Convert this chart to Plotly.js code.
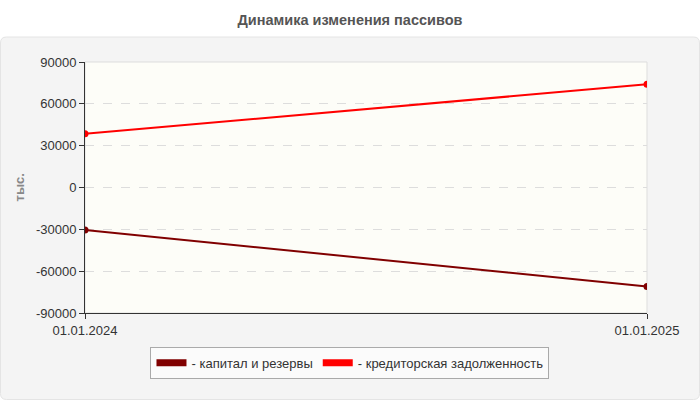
<!DOCTYPE html>
<html><head><meta charset="utf-8">
<script src="https://cdn.plot.ly/plotly-3.0.1.min.js"></script>
<style>html,body{margin:0;padding:0;background:#fff}#chart{width:700px;height:400px}</style>
</head><body><div id="chart"></div>
<script>
const dates = ["01.01.2024", "01.01.2025"];
const capital = [-30500, -71000];
const payables = [38500, 74000];
const seriesNames = ["- капитал и резервы", "- кредиторская задолженность"];
const yTicks = [-90000, -60000, -30000, 0, 30000, 60000, 90000];
const yTitle = "тыс.";

const xIdx = dates.map((d, i) => i);
const colCap = "#800000", colPay = "#ff0000";

const traces = [
  {x: xIdx, y: capital, mode: "lines+markers", line: {color: colCap, width: 2}, marker: {color: colCap, size: 7}, showlegend: false, hoverinfo: "skip"},
  {x: xIdx, y: payables, mode: "lines+markers", line: {color: colPay, width: 2}, marker: {color: colPay, size: 7}, showlegend: false, hoverinfo: "skip"},
  {x: [null], y: [null], mode: "lines", name: seriesNames[0], line: {color: colCap, width: 7}},
  {x: [null], y: [null], mode: "lines", name: seriesNames[1], line: {color: colPay, width: 7}}
];

// rounded panel path in paper coordinates
const W = 562, H = 251;
function px(x) { return ((x - 85) / W).toFixed(5); }
function py(y) { return ((313 - y) / H).toFixed(5); }
const L = 0.5, R = 699.5, T = 37, B = 399.5, rr = 6;
const panelPath = `M ${px(L + rr)} ${py(T)} L ${px(R - rr)} ${py(T)} Q ${px(R)} ${py(T)} ${px(R)} ${py(T + rr)} ` +
  `L ${px(R)} ${py(B - rr)} Q ${px(R)} ${py(B)} ${px(R - rr)} ${py(B)} L ${px(L + rr)} ${py(B)} ` +
  `Q ${px(L)} ${py(B)} ${px(L)} ${py(B - rr)} L ${px(L)} ${py(T + rr)} Q ${px(L)} ${py(T)} ${px(L + rr)} ${py(T)} Z`;

const layout = {
  width: 700, height: 400,
  margin: {l: 85, r: 53, t: 62, b: 87},
  paper_bgcolor: "#ffffff",
  plot_bgcolor: "#fdfdf8",
  font: {family: "Liberation Sans, Arial, sans-serif", size: 13, color: "#333"},
  title: {text: "<b>Динамика изменения пассивов</b>", font: {size: 14.5, color: "#555"}, x: 0.5, xanchor: "center", y: 0.95, yanchor: "middle"},
  xaxis: {
    range: [0, 1], tickvals: xIdx, ticktext: dates, showgrid: false, zeroline: false,
    showline: true, linecolor: "#333", linewidth: 1, ticks: "outside", ticklen: 5, tickcolor: "#333",
    tickfont: {size: 13, color: "#333"}
  },
  yaxis: {
    range: [-90000, 90000], tickvals: yTicks, ticktext: yTicks.map(String),
    showgrid: true, gridcolor: "#dddddd", griddash: "dash", gridwidth: 1, zeroline: false,
    showline: true, linecolor: "#333", linewidth: 1, ticks: "outside", ticklen: 5, tickcolor: "#333",
    tickfont: {size: 13, color: "#333"}
  },
  annotations: [
    {text: "<b>" + yTitle + "</b>", xref: "paper", yref: "paper", x: -0.1157, y: 0.5,
     xanchor: "center", yanchor: "middle", textangle: -90, showarrow: false,
     font: {size: 13, color: "#888"}}
  ],
  legend: {
    orientation: "h", x: 0.4715, xanchor: "center", y: -0.135, yanchor: "top",
    bgcolor: "#fbfbfb", bordercolor: "#aaa", borderwidth: 1,
    font: {size: 13, color: "#333"}
  },
  shapes: [
    {type: "path", xref: "paper", yref: "paper", path: panelPath,
     fillcolor: "#f4f4f4", line: {color: "#e4e4e4", width: 1}, layer: "below"},
    {type: "rect", xref: "paper", yref: "paper", x0: 0, x1: 1, y0: 0, y1: 1,
     fillcolor: "#fdfdf8", line: {color: "#dddddd", width: 1}, layer: "below"}
  ]
};

Plotly.newPlot("chart", traces, layout, {displayModeBar: false, staticPlot: true});
</script></body></html>
